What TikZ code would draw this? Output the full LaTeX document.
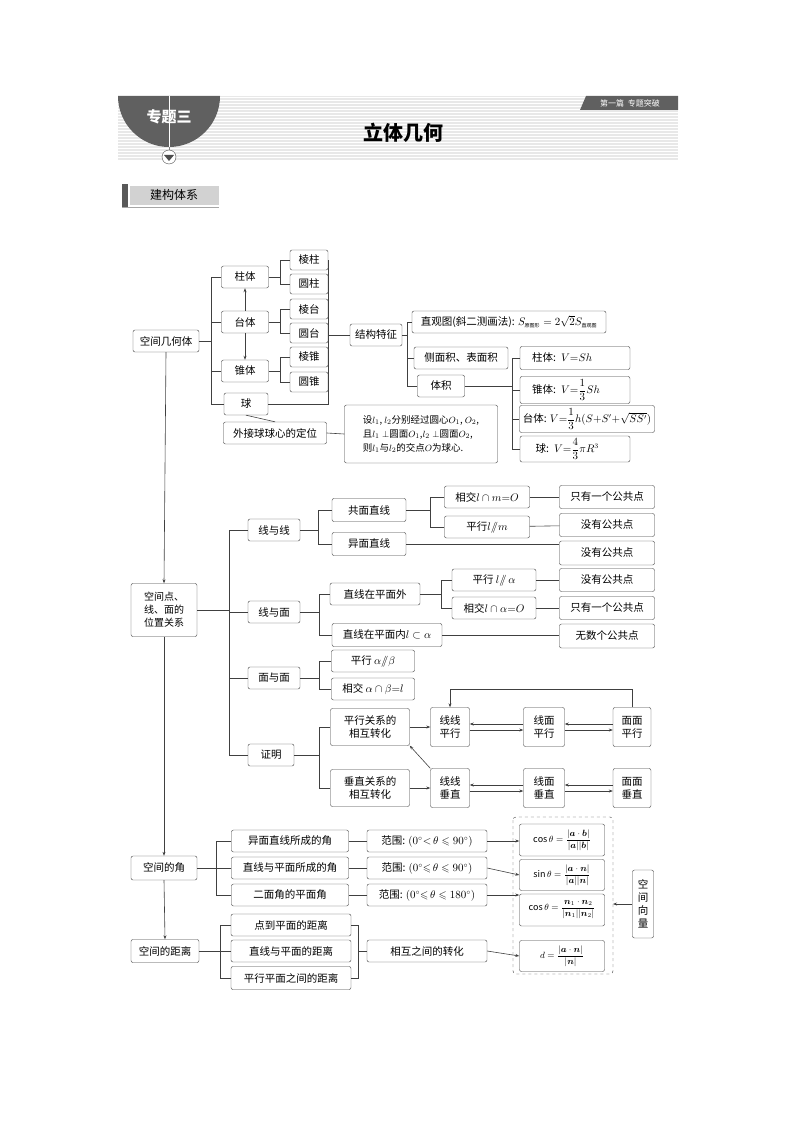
\documentclass[tikz,border=0pt]{standalone}
\usepackage{amsmath,amssymb,bm}
\usepackage{fontspec}
\setmainfont{Noto Sans CJK SC}
\usetikzlibrary{arrows.meta}
\tikzset{
  box/.style={draw=black!75,rounded corners=2pt,inner sep=1pt,align=center,font=\fontsize{10.5}{13}\selectfont,fill=white},
  ln/.style={draw=black!75,line width=0.6pt},
  ar/.style={ln,-{Stealth[length=4pt,width=3pt]}},
}
\begin{document}
\begin{tikzpicture}[x=1pt,y=-1pt]
\useasboundingbox (0,0) rectangle (794,1123);
% header
\fill[gray!18] (118,96) rectangle (678,160);
\foreach \k in {0,...,21} \draw[white,line width=0.8pt] (118,97+3*\k) -- (678,97+3*\k);
\fill[gray!75!black] (118,96) arc[start angle=180,end angle=0,radius=51];
\draw[white,line width=0.8pt] (169,96) -- (169,147);
\draw[gray] (169,147) -- (169,150);
\node[white,font=\fontsize{15}{15}\bfseries\selectfont] (zt) at (169,117) {专题三};
\draw[gray!60!black,fill=white] (169,157) circle[radius=7];
\fill[gray!60!black] (164,155) -- (174,155) -- (169,161) -- cycle;
\fill[gray!75!black] (586,96) -- (678,96) -- (678,110) -- (580,110) -- cycle;
\node[white,font=\fontsize{8}{8}\selectfont] (pian) at (630,103) {第一篇\ \ 专题突破};
\node[font=\fontsize{20}{20}\bfseries\selectfont] (title) at (403,133) {立体几何};
\fill[gray!35] (130,186) rectangle (219,205);
\draw[gray!70] (122,207) -- (219,207);
\fill[gray!70!black] (122,184) rectangle (128,207);
\node[font=\fontsize{12}{12}\selectfont] (jg) at (174,195) {建构体系};

% 空间几何体
\node[box,minimum width=66,minimum height=22] (kj) at (166,341) {空间几何体};
\node[box,minimum width=47,minimum height=22] (zhu) at (245,277) {柱体};
\node[box,minimum width=47,minimum height=22] (tai) at (245,322) {台体};
\node[box,minimum width=47,minimum height=22] (zhui) at (245,371) {锥体};
\node[box,minimum width=44,minimum height=22] (qiu) at (246,404) {球};
\node[box,minimum width=103,minimum height=22] (wj) at (275,433) {外接球球心的定位};
\node[box,minimum width=38,minimum height=20] (lz) at (309,260) {棱柱};
\node[box,minimum width=38,minimum height=20] (yz) at (309,284) {圆柱};
\node[box,minimum width=38,minimum height=20] (lt) at (309,309) {棱台};
\node[box,minimum width=38,minimum height=20] (yt) at (309,333) {圆台};
\node[box,minimum width=38,minimum height=20] (lzh) at (309,357) {棱锥};
\node[box,minimum width=38,minimum height=20] (yzh) at (309,382) {圆锥};
\node[box,minimum width=52,minimum height=22] (jt) at (376,335) {结构特征};
\node[box,minimum width=194,minimum height=22] (zg) at (509,322) {直观图(斜二测画法): $S_{\text{\tiny 原图形}}=2\sqrt2S_{\text{\tiny 直观图}}$};
\node[box,minimum width=94,minimum height=22] (cm) at (461,358) {侧面积、表面积};
\node[box,minimum width=47,minimum height=22] (tj) at (441,386) {体积};
\node[box,minimum width=110,minimum height=23,text width=100,align=left] (v1) at (575,358) {\ \ 柱体: $V{=}Sh$};
\node[box,minimum width=110,minimum height=27,text width=100,align=left] (v2) at (575,390) {\ \ 锥体: $V{=}\dfrac13Sh$};
\node[box,minimum width=135,minimum height=27] (v3) at (587,419) {台体: $V{=}\dfrac13h(S{+}S'{+}\sqrt{SS'})$};
\node[box,minimum width=110,minimum height=26,text width=100,align=left] (v4) at (575,449) {\ \ \ 球: $V{=}\dfrac43\pi R^3$};
\node[box,minimum width=153,minimum height=58,align=left,font=\fontsize{9.5}{14}\selectfont] (sh) at (421,434) {设$l_1$, $l_2$分别经过圆心$O_1$, $O_2$,\\且$l_1\perp$圆面$O_1$,$l_2\perp$圆面$O_2$,\\则$l_1$与$l_2$的交点$O$为球心.};

\draw[ln] (kj.east) -- ++(12,0) coordinate (b1);
\foreach \n in {zhu,tai,zhui,qiu} \draw[ln] (\n.west) -| (b1);
\draw[ar] (tai.north) -- (zhu.south);
\draw[ar] (tai.south) -- (zhui.north);
\draw[ln] (qiu.south) -- (wj.north);
\draw[ln] (zhu.east) -- ++(12,0) coordinate (b2);
\foreach \n in {lz,yz} \draw[ln] (\n.west) -| (b2);
\draw[ln] (tai.east) -- ++(12,0) coordinate (b3);
\foreach \n in {lt,yt} \draw[ln] (\n.west) -| (b3);
\draw[ln] (zhui.east) -- ++(12,0) coordinate (b4);
\foreach \n in {lzh,yzh} \draw[ln] (\n.west) -| (b4);
\draw[ln] (jt.west) -- ++(-22,0) coordinate (b5);
\foreach \n in {lz,yz,lt,lzh,yzh} \draw[ln] (\n.east) -| (b5);
\draw[ln] (qiu.east) -| (b5);
\draw[ln] (jt.east) -- ++(5,0) coordinate (b6);
\foreach \n in {zg,cm,tj} \draw[ln] (\n.west) -| (b6);
\draw[ln] (tj.east) -- ++(48,0) coordinate (b7);
\foreach \n in {v1,v2,v3,v4} \draw[ln] (\n.west) -| (b7);
\draw[ln] (wj.east) -- (sh.west);

% 位置关系
\node[box,minimum width=66,minimum height=53,font=\fontsize{10}{13}\selectfont] (wz) at (164,610) {空间点、\\线、面的\\位置关系};
\draw[ar] (kj.south) -- (wz.north);
\node[box,minimum width=52,minimum height=22] (xx) at (274,530) {线与线};
\node[box,minimum width=52,minimum height=22] (xm) at (274,612) {线与面};
\node[box,minimum width=52,minimum height=22] (mm) at (274,678) {面与面};
\node[box,minimum width=46,minimum height=22] (zm) at (271,755) {证明};
\draw[ln] (wz.east) -- ++(32,0) coordinate (c1);
\foreach \n in {xx,xm,mm,zm} \draw[ln] (\n.west) -| (c1);
\node[box,minimum width=74,minimum height=23] (gm) at (369,510) {共面直线};
\node[box,minimum width=74,minimum height=23] (ym) at (369,544) {异面直线};
\draw[ln] (xx.east) -- ++(18,0) coordinate (c2);
\foreach \n in {gm,ym} \draw[ln] (\n.west) -| (c2);
\node[box,minimum width=85,minimum height=22] (xj1) at (487,497) {相交$l\cap m{=}O$};
\node[box,minimum width=85,minimum height=22] (px1) at (487,527) {平行$l/\!\!/m$};
\draw[ln] (gm.east) -- ++(24,0) coordinate (c3);
\foreach \n in {xj1,px1} \draw[ln] (\n.west) -| (c3);
\node[box,minimum width=95,minimum height=23] (g1) at (607,497) {只有一个公共点};
\node[box,minimum width=95,minimum height=23] (g2) at (607,525) {没有公共点};
\node[box,minimum width=95,minimum height=24] (g3) at (607,553) {没有公共点};
\draw[ln] (xj1) -- (g1); \draw[ln] (px1) -- (g2); \draw[ln] (ym.east) -- (ym.east -| g3.west);
\node[box,minimum width=90,minimum height=22] (zw) at (375,594) {直线在平面外};
\node[box,minimum width=110,minimum height=23] (zn) at (387,635) {直线在平面内$l\subset\alpha$};
\draw[ln] (xm.east) -- ++(19,0) coordinate (c4);
\foreach \n in {zw,zn} \draw[ln] (\n.west) -| (c4);
\node[box,minimum width=84,minimum height=22] (px2) at (494,580) {平行 $l/\!\!/\,\alpha$};
\node[box,minimum width=84,minimum height=22] (xj2) at (494,608) {相交$l\cap\alpha{=}O$};
\draw[ln] (zw.east) -- ++(21,0) coordinate (c5);
\foreach \n in {px2,xj2} \draw[ln] (\n.west) -| (c5);
\node[box,minimum width=95,minimum height=23] (g4) at (607,580) {没有公共点};
\node[box,minimum width=95,minimum height=23] (g5) at (607,608) {只有一个公共点};
\node[box,minimum width=95,minimum height=24] (g6) at (607,636) {无数个公共点};
\draw[ln] (px2) -- (g4); \draw[ln] (xj2) -- (g5); \draw[ln] (zn.east) -- (zn.east -| g6.west);
\node[box,minimum width=83,minimum height=22] (px3) at (373,661) {平行 $\alpha/\!\!/\beta$};
\node[box,minimum width=83,minimum height=22] (xj3) at (373,689) {相交 $\alpha\cap\beta{=}l$};
\draw[ln] (mm.east) -- ++(19,0) coordinate (c6);
\foreach \n in {px3,xj3} \draw[ln] (\n.west) -| (c6);
\node[box,minimum width=79,minimum height=37] (pz) at (370,727) {平行关系的\\相互转化};
\node[box,minimum width=79,minimum height=37] (cz) at (370,788) {垂直关系的\\相互转化};
\draw[ln] (zm.east) -- ++(25,0) coordinate (c7);
\foreach \n in {pz,cz} \draw[ln] (\n.west) -| (c7);
\node[box,minimum width=39,minimum height=39] (llp) at (450,727) {线线\\平行};
\node[box,minimum width=41,minimum height=39] (lmp) at (544,727) {线面\\平行};
\node[box,minimum width=38,minimum height=39] (mmp) at (632,727) {面面\\平行};
\node[box,minimum width=39,minimum height=39] (llc) at (450,788) {线线\\垂直};
\node[box,minimum width=41,minimum height=39] (lmc) at (544,788) {线面\\垂直};
\node[box,minimum width=38,minimum height=39] (mmc) at (632,788) {面面\\垂直};
\draw[ar] (pz) -- (llp); \draw[ar] (cz) -- (llc);
\foreach \a/\b in {llp/lmp,lmp/mmp,llc/lmc,lmc/mmc} {
  \draw[ar] ([yshift=-3]\a.east) -- ([yshift=-3]\b.west);
  \draw[ar] ([yshift=3]\b.west) -- ([yshift=3]\a.east);
}
\draw[ar] (mmp.north) -- ++(0,-18) -| (llp.north);
\draw[ar] (llc.north west) -- (pz.south east);

% 角与距离
\node[box,minimum width=66,minimum height=24] (jiao) at (164,868) {空间的角};
\node[box,minimum width=68,minimum height=23] (jl) at (165,951) {空间的距离};
\draw[ar] (wz.south) -- (jiao.north);
\draw[ar] (jiao.south) -- (jl.north);
\node[box,minimum width=117,minimum height=22] (a1) at (290,841) {异面直线所成的角};
\node[box,minimum width=117,minimum height=22] (a2) at (290,868) {直线与平面所成的角};
\node[box,minimum width=117,minimum height=22] (a3) at (290,895) {二面角的平面角};
\draw[ln] (jiao.east) -- ++(19,0) coordinate (d1);
\foreach \n in {a1,a2,a3} \draw[ln] (\n.west) -| (d1);
\node[box,minimum width=120,minimum height=22] (r1) at (427,841) {范围: $(0^\circ{<}\,\theta\leqslant90^\circ)$};
\node[box,minimum width=120,minimum height=22] (r2) at (427,868) {范围: $(0^\circ{\leqslant}\,\theta\leqslant90^\circ)$};
\node[box,minimum width=120,minimum height=22] (r3) at (427,895) {范围: $(0^\circ{\leqslant}\,\theta\leqslant180^\circ)$};
\foreach \i in {1,2,3} \draw[ln] (a\i) -- (r\i);
\draw[black!75,dashed,rounded corners=3pt] (513,817) rectangle (613,974);
\node[box,minimum width=85,minimum height=32,font=\fontsize{9}{11}\selectfont] (f1) at (562,840) {$\cos\theta=\dfrac{|\bm a\cdot\bm b|}{|\bm a||\bm b|}$};
\node[box,minimum width=85,minimum height=31,font=\fontsize{9}{11}\selectfont] (f2) at (562,875) {$\sin\theta=\dfrac{|\bm a\cdot\bm n|}{|\bm a||\bm n|}$};
\node[box,minimum width=85,minimum height=32,font=\fontsize{9}{11}\selectfont] (f3) at (562,910) {$\cos\theta=\dfrac{\bm n_1\cdot\bm n_2}{|\bm n_1||\bm n_2|}$};
\node[box,minimum width=85,minimum height=31,font=\fontsize{9}{11}\selectfont] (f4) at (562,956) {$d=\dfrac{|\bm a\cdot\bm n|}{|\bm n|}$};
\draw[ar] (r1.east) -- (r1.east -| f1.west);
\draw[ar] (r2.east) -- (f2.west);
\draw[ar] (r3.east) -- (r3.east -| f3.west);
\node[box,minimum width=21,minimum height=68,text width=12] (kx) at (643,904) {空\\间\\向\\量};
\draw[ar] (kx.west) -- (613,904);
\node[box,minimum width=120,minimum height=22] (e1) at (291,925) {点到平面的距离};
\node[box,minimum width=120,minimum height=22] (e2) at (291,951) {直线与平面的距离};
\node[box,minimum width=120,minimum height=23] (e3) at (291,978) {平行平面之间的距离};
\draw[ln] (jl.east) -- ++(21,0) coordinate (d2);
\foreach \n in {e1,e2,e3} \draw[ln] (\n.west) -| (d2);
\node[box,minimum width=120,minimum height=22] (zh) at (427,951) {相互之间的转化};
\draw[ln] (zh.west) -- ++(-9,0) coordinate (d3);
\foreach \n in {e1,e3} \draw[ln] (\n.east) -| (d3);
\draw[ar] (zh.east) -- (f4.west);
\end{tikzpicture}
\end{document}
